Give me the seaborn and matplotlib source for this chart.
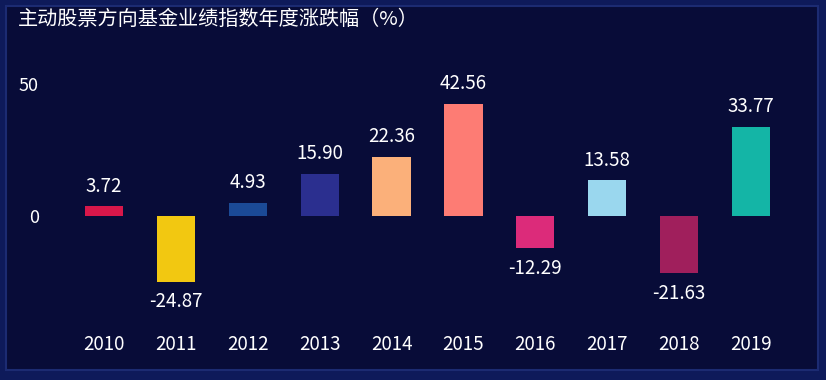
import matplotlib
matplotlib.use("Agg")
import matplotlib.pyplot as plt
import seaborn as sns
import pandas as pd
from matplotlib.patches import Rectangle

years = ["2010", "2011", "2012", "2013", "2014", "2015", "2016", "2017", "2018", "2019"]
returns = [3.72, -24.87, 4.93, 15.90, 22.36, 42.56, -12.29, 13.58, -21.63, 33.77]
bar_colors = ["#d8174a", "#f2c811", "#1b4a96", "#2b2f8f", "#fbb07a",
              "#fd7c74", "#dc2b7a", "#9ad7ee", "#a01f5c", "#14b5a6"]
title = "主动股票方向基金业绩指数年度涨跌幅（%）"

sns.set_style("dark")
plt.rcParams['font.family'] = ['Noto Sans CJK SC', 'DejaVu Sans']

df = pd.DataFrame({"year": years, "ret": returns})

fig = plt.figure(figsize=(8.26, 3.8), dpi=100)
fig.patch.set_facecolor("#0e1a5a")

# 内部深色面板
panel = Rectangle((6 / 826, 10 / 380), 812 / 826, 364 / 380,
                  transform=fig.transFigure, facecolor="#080c38",
                  edgecolor="#1c2b72", linewidth=1.5, zorder=-10)
fig.patches.append(panel)

ax = fig.add_axes([68 / 826, 1 - 320 / 380, 719 / 826, 260 / 380])
ax.set_facecolor("none")

sns.barplot(data=df, x="year", y="ret", hue="year", palette=bar_colors,
            legend=False, width=0.53, saturation=1, linewidth=0,
            edgecolor="none", ax=ax)

for c in ax.containers:
    ax.bar_label(c, fmt="%.2f", padding=7, color="white", fontsize=13.5)

ax.set_ylim(-39.5, 59.3)
ax.set_yticks([0, 50])
ax.set_yticklabels(["0", "50"])
ax.set_xlabel("")
ax.set_ylabel("")
ax.tick_params(axis="y", colors="white", labelsize=13, length=0, pad=21)
ax.tick_params(axis="x", colors="white", labelsize=13.5, length=0, pad=10)
ax.grid(False)
for s in ax.spines.values():
    s.set_visible(False)

fig.text(18 / 826, 1 - 19 / 380, title, color="white", fontsize=14.5,
         ha="left", va="center")

fig.savefig("out.png", dpi=100, facecolor=fig.get_facecolor())
